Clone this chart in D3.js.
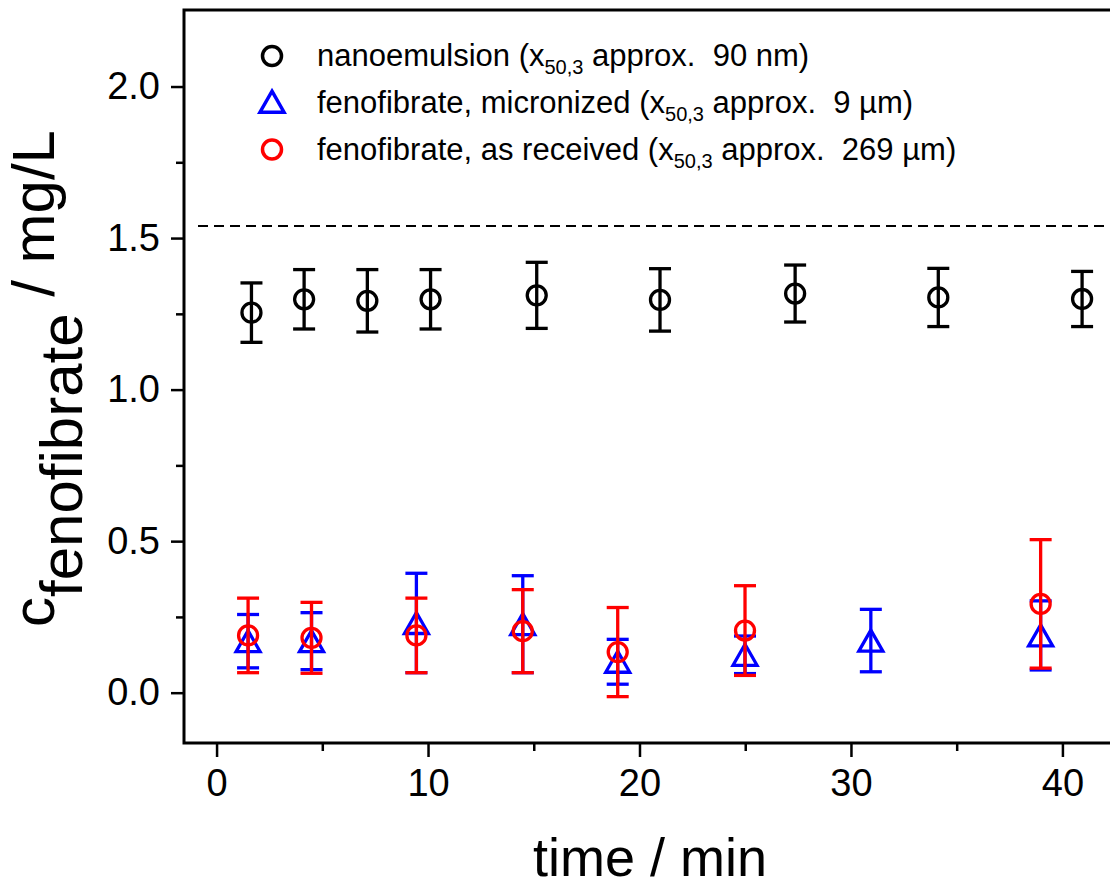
<!DOCTYPE html>
<html>
<head>
<meta charset="utf-8">
<script src="https://cdn.jsdelivr.net/npm/d3@7"></script>
<style>
  body { margin: 0; background: #fff; }
  svg { display: block; font-family: "Liberation Sans", Arial, sans-serif; }
  text { white-space: pre; }
</style>
</head>
<body>
<div id="chart"></div>
<script>
// nanoemulsion (black circles)
var nanoTime = [1.65, 4.14, 7.13, 10.12, 15.14, 20.97, 27.36, 34.13, 40.93];
var nanoConc = [1.254, 1.298, 1.293, 1.298, 1.311, 1.296, 1.317, 1.304, 1.299];
var nanoErr  = [0.098, 0.098, 0.103, 0.098, 0.109, 0.103, 0.094, 0.096, 0.091];

// micronized (blue triangles)
var microTime = [1.49, 4.49, 9.45, 14.48, 18.97, 24.99, 30.94, 38.97];
var microConc = [0.170, 0.170, 0.230, 0.226, 0.102, 0.125, 0.172, 0.189];
var microErr  = [0.088, 0.094, 0.164, 0.160, 0.074, 0.062, 0.103, 0.114];

// as received (red circles)
var recvTime = [1.49, 4.49, 9.45, 14.48, 18.97, 24.99, 38.97];
var recvConc = [0.189, 0.181, 0.189, 0.203, 0.134, 0.205, 0.293];
var recvErr  = [0.123, 0.117, 0.123, 0.137, 0.147, 0.148, 0.212];

var saturation = 1.54;

var xTicks = [0, 10, 20, 30, 40];
var xMinor = [5, 15, 25, 35];
var yTicks = [0, 0.5, 1.0, 1.5, 2.0];
var yMinor = [0.25, 0.75, 1.25, 1.75];

var legendNames = [
  ["nanoemulsion (x", "50,3", " approx.  90 nm)"],
  ["fenofibrate, micronized (x", "50,3", " approx.  9 \u00b5m)"],
  ["fenofibrate, as received (x", "50,3", " approx.  269 \u00b5m)"]
];

var width = 1110, height = 886;
var plotLeft = 184, plotRight = 1110, plotTop = 10, plotBottom = 743;

var svg = d3.select("#chart").append("svg")
    .attr("width", width)
    .attr("height", height);

var x = d3.scaleLinear().domain([-1.54, 42.25]).range([plotLeft, plotRight]);
var y = d3.scaleLinear().domain([-0.166, 2.2525]).range([plotBottom, plotTop]);

function zip(t, c, e) {
    return t.map(function(d, i) { return {t: d, c: c[i], e: e[i]}; });
}

// dashed line (solubility)
svg.append("line")
    .attr("x1", 198).attr("x2", plotRight)
    .attr("y1", y(saturation)).attr("y2", y(saturation))
    .attr("stroke", "#000")
    .attr("stroke-width", 2)
    .attr("stroke-dasharray", "10,6");

// axes
svg.append("g")
    .attr("transform", "translate(0," + plotBottom + ")")
    .call(d3.axisBottom(x).tickValues(xTicks).tickSize(14).tickSizeOuter(0).tickPadding(12).tickFormat(d3.format("d")));
svg.append("g")
    .attr("transform", "translate(0," + plotBottom + ")")
    .call(d3.axisBottom(x).tickValues(xMinor).tickSize(8).tickSizeOuter(0).tickFormat(""));

svg.append("g")
    .attr("transform", "translate(" + plotLeft + ",0)")
    .call(d3.axisLeft(y).tickValues(yTicks).tickSize(13).tickSizeOuter(0).tickPadding(11).tickFormat(d3.format(".1f")));
svg.append("g")
    .attr("transform", "translate(" + plotLeft + ",0)")
    .call(d3.axisLeft(y).tickValues(yMinor).tickSize(8).tickSizeOuter(0).tickFormat(""));

svg.selectAll(".domain").remove();
svg.selectAll(".tick line").attr("stroke", "#000").attr("stroke-width", 2.5);
svg.selectAll(".tick text")
    .attr("fill", "#000")
    .style("font-size", "38px")
    .style("font-family", "'Liberation Sans', Arial, sans-serif");

// frame
svg.append("path")
    .attr("d", "M" + (plotRight + 5) + "," + plotTop + "H" + plotLeft + "V" + plotBottom + "H" + (plotRight + 5))
    .attr("fill", "none")
    .attr("stroke", "#000")
    .attr("stroke-width", 3);

// series drawing
function drawErrors(data, color) {
    var g = svg.append("g").attr("stroke", color).attr("stroke-width", 3.3).attr("fill", "none");
    data.forEach(function(d) {
        var cx = x(d.t), y1 = y(d.c + d.e), y2 = y(d.c - d.e);
        g.append("line").attr("x1", cx).attr("x2", cx).attr("y1", y1).attr("y2", y2);
        g.append("line").attr("x1", cx - 11).attr("x2", cx + 11).attr("y1", y1).attr("y2", y1);
        g.append("line").attr("x1", cx - 11).attr("x2", cx + 11).attr("y1", y2).attr("y2", y2);
    });
    return g;
}

function circleMark(g, cx, cy) {
    g.append("circle").attr("cx", cx).attr("cy", cy).attr("r", 9.5);
}

function triangleMark(g, cx, cy) {
    var w = 12, h = 10.5;
    g.append("path")
        .attr("d", "M" + cx + "," + (cy - h) + "L" + (cx + w) + "," + (cy + h) + "L" + (cx - w) + "," + (cy + h) + "Z");
}

var nano = zip(nanoTime, nanoConc, nanoErr);
var micro = zip(microTime, microConc, microErr);
var recv = zip(recvTime, recvConc, recvErr);

var gN = drawErrors(nano, "#000");
nano.forEach(function(d) { circleMark(gN, x(d.t), y(d.c)); });

var gB = drawErrors(micro, "#0000ff");
micro.forEach(function(d) { triangleMark(gB, x(d.t), y(d.c)); });

var gR = drawErrors(recv, "#ff0000");
recv.forEach(function(d) { circleMark(gR, x(d.t), y(d.c)); });

// legend
var legColors = ["#000", "#0000ff", "#ff0000"];
var legBase = [66, 112.7, 159.5];
legendNames.forEach(function(parts, i) {
    var g = svg.append("g").attr("stroke", legColors[i]).attr("stroke-width", 3.5).attr("fill", "none");
    if (i == 1) triangleMark(g, 272, legBase[i] - 11);
    else circleMark(g, 272, legBase[i] - 10);
    var t = svg.append("text")
        .attr("x", 317).attr("y", legBase[i])
        .style("font-size", "31px")
        .attr("fill", "#000");
    t.append("tspan").text(parts[0]);
    t.append("tspan").attr("dy", 8).style("font-size", "20px").text(parts[1]);
    t.append("tspan").attr("dy", -8).text(parts[2]);
});

// axis titles
svg.append("text")
    .attr("x", 650).attr("y", 876)
    .attr("text-anchor", "middle")
    .style("font-size", "54px")
    .text("time / min");

var yl = svg.append("text")
    .attr("transform", "translate(54,627) rotate(-90)")
    .style("font-size", "60px");
yl.append("tspan").text("c");
yl.append("tspan").attr("dy", 28).text("fenofibrate");
yl.append("tspan").attr("dy", -28).text(" / mg/L");
</script>
</body>
</html>
